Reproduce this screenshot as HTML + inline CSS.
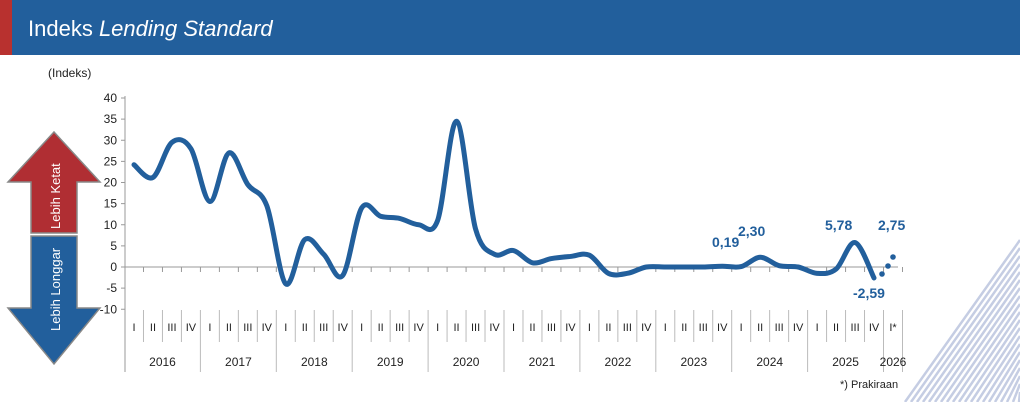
<!DOCTYPE html>
<html><head><meta charset="utf-8"><style>
body{margin:0;width:1020px;height:402px;background:#fff;overflow:hidden;font-family:"Liberation Sans",sans-serif}
</style></head><body>
<svg width="1020" height="402" xmlns="http://www.w3.org/2000/svg" style="position:absolute;left:0;top:0">
<rect x="0" y="0" width="1020" height="55" fill="#225f9c"/>
<rect x="0" y="0" width="12" height="55" fill="#b8312f"/>
<text x="28" y="36" fill="#fff" font-size="22">Indeks <tspan font-style="italic">Lending Standard</tspan></text>
<g stroke="#c5cde3" stroke-width="2.5" id="deco"></g>
<text x="48" y="77" font-size="12" fill="#222">(Indeks)</text>
<polygon points="54,132 100,182 77,182 77,233 31,233 31,182 8,182" fill="#b02e33" stroke="#888" stroke-width="1.5"/>
<polygon points="31,236 77,236 77,308 100,308 54,364 8,308 31,308" fill="#225f9c" stroke="#888" stroke-width="1.5"/>
<text transform="translate(60,229) rotate(-90)" fill="#fff" font-size="13">Lebih Ketat</text>
<text transform="translate(60,331) rotate(-90)" fill="#fff" font-size="13">Lebih Longgar</text>
<g id="axis" font-size="12" fill="#222"></g>
<path id="line" fill="none" stroke="#225f9c" stroke-width="5" stroke-linecap="round" stroke-linejoin="round"/>
<circle cx="882" cy="274" r="2.8" fill="#225f9c"/>
<circle cx="888" cy="266" r="2.8" fill="#225f9c"/>
<circle cx="893" cy="257" r="2.8" fill="#225f9c"/>
<g font-size="14" font-weight="bold" fill="#225f9c">
<text x="712" y="247">0,19</text><text x="738" y="236">2,30</text>
<text x="825" y="230">5,78</text><text x="878" y="230">2,75</text>
<text x="853" y="298">-2,59</text></g>
<text x="840" y="388" font-size="11" fill="#222">*) Prakiraan</text>
</svg>
<script>
const ns="http://www.w3.org/2000/svg";
const ax=document.getElementById('axis');
function el(t,a,p){const e=document.createElementNS(ns,t);for(const k in a)e.setAttribute(k,a[k]);(p||ax).appendChild(e);return e;}
const Y=v=>267-v*4.225, X=i=>134+18.975*i;
el('line',{x1:125,y1:96,x2:125,y2:372,stroke:'#999'});
el('line',{x1:125,y1:267,x2:898,y2:267,stroke:'#999'});
for(let v=-10;v<=40;v+=5){el('line',{x1:121,y1:Y(v),x2:125,y2:Y(v),stroke:'#999'});const t=el('text',{x:117,y:Y(v)+4,'text-anchor':'end'});t.textContent=v;}
const q=['I','II','III','IV'];
for(let i=0;i<=40;i++){const x=X(i)-9.5;
 el('line',{x1:x+19,y1:267,x2:x+19,y2:272,stroke:'#999'});
 const t=el('text',{x:X(i),y:331,'text-anchor':'middle','font-size':11});t.textContent=i==40?'I*':q[i%4];
 if(i>0)el('line',{x1:x,y1:310,x2:x,y2:i%4==0?372:342,stroke:'#bbb'});}
el('line',{x1:X(40)+9.5,y1:310,x2:X(40)+9.5,y2:372,stroke:'#bbb'});
for(let y=0;y<11;y++){const t=el('text',{x:X(y*4)+28.5,y:366,'text-anchor':'middle'});t.textContent=2016+y;if(y==10)t.setAttribute('x',X(40));}
const d=[24.2,21.2,29.5,28,15.5,27,19.5,14.5,-4,6.5,3,-2,14,12,11.5,10,11,34.5,9,3,3.9,1,2,2.5,2.8,-1.5,-1.5,0,0,0,0,0.19,0.1,2.3,0.3,0,-1.5,-0.5,5.78,-2.59];
const P=d.map((v,i)=>[X(i),Y(v)]);
let s='M'+P[0];
for(let i=0;i<P.length-1;i++){const p0=P[i-1]||P[i],p1=P[i],p2=P[i+1],p3=P[i+2]||p2;
 s+=` C${p1[0]+(p2[0]-p0[0])/6},${p1[1]+(p2[1]-p0[1])/6} ${p2[0]-(p3[0]-p1[0])/6},${p2[1]-(p3[1]-p1[1])/6} ${p2[0]},${p2[1]}`;}
document.getElementById('line').setAttribute('d',s);
const g=document.getElementById('deco');
for(let k=0;k<22;k++){el('line',{x1:905+k*6,y1:402,x2:1020,y2:240+k*8},g);}
</script>
</body></html>
